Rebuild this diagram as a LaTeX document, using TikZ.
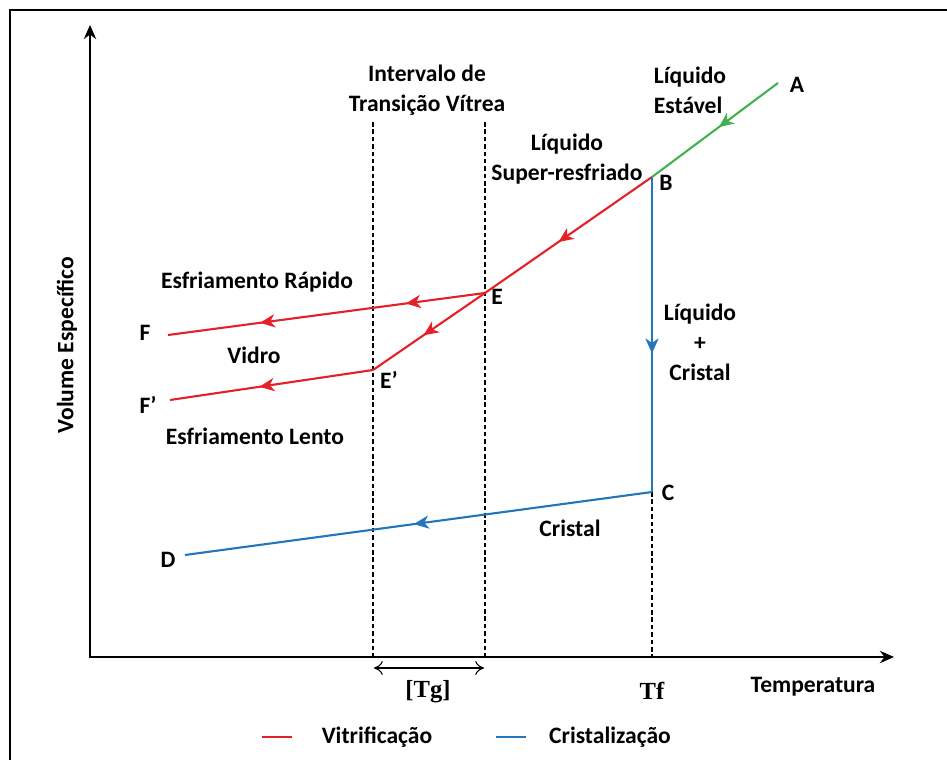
\documentclass[tikz,border=0pt]{standalone}
\usepackage{fontspec}
\setmainfont{Carlito}
\newfontfamily\tgfont{Liberation Serif}
\usetikzlibrary{arrows.meta,decorations.markings}
\definecolor{vitred}{RGB}{228,32,40}
\definecolor{crisblue}{RGB}{36,118,188}
\definecolor{liqgreen}{RGB}{64,178,80}
\tikzset{
  curve/.style={line width=1.2pt},
  guide/.style={line width=0.9pt,dash pattern=on 2.6pt off 1.6pt},
  axis/.style={line width=1.4pt,-{Stealth[length=8pt,width=7pt]}},
  lbl/.style={font=\bfseries\fontsize{13.4}{15}\selectfont,inner sep=0pt},
  midarrow/.style={postaction={decorate,decoration={markings,
      mark=at position #1 with {\arrow{Stealth[length=8.5pt,width=7.5pt,inset=2.5pt]}}}}}
}
\begin{document}
\begin{tikzpicture}[x=0.02cm,y=-0.02cm]
\useasboundingbox (0,0) rectangle (947,760);
\clip (0,0) rectangle (947,760);
% Frame
\draw [line width=1.3pt] (10,10) rectangle (960,775);

% Axes
\coordinate (O) at (90,657);
\coordinate (Ytop) at (90,25);
\coordinate (Xend) at (894,657);
\draw [axis] (O) -- (Ytop);
\draw [axis] ([xshift=-0.7pt]O) -- (Xend);
\node [lbl,rotate=90] (ylab) at (67,345) {Volume Específico};
\node [lbl] (xlab) at (813,687) {Temperatura};

% Points of the curves
\coordinate (A) at (778,83);
\coordinate (B) at (652,177);
\coordinate (C) at (652,492);
\coordinate (D) at (185,555);
\coordinate (E) at (485,293);
\coordinate (Ep) at (373,370);
\coordinate (F) at (168,335);
\coordinate (Fp) at (170,400);

% Glass transition interval and Tf
\coordinate (g1top) at (373,122);
\coordinate (g2top) at (485,122);
\coordinate (g1bot) at (373,657);
\coordinate (g2bot) at (485,657);
\coordinate (tfbot) at (652,657);
\draw [guide] (g1top) -- (g1bot);
\draw [guide] (g2top) -- (g2bot);
\draw [guide] (C) -- (tfbot);
\draw [line width=0.6pt,{To[length=5pt,width=8pt]}-{To[length=5pt,width=8pt]}] (374,668) -- (484,668);
\node [font=\tgfont\bfseries\fontsize{14}{16}\selectfont] (tg) at (428,692) {[Tg]};
\node [font=\tgfont\bfseries\fontsize{14}{16}\selectfont] (tf) at (652,691) {Tf};

% Stable liquid
\draw [curve,liqgreen,midarrow=0.47] (A) -- (B);
% Vitrification
\draw [curve,vitred,midarrow=0.56] (B) -- (E);
\draw [curve,vitred,midarrow=0.25,midarrow=0.71] (E) -- (F);
\draw [curve,vitred,midarrow=0.55] (E) -- (Ep);
\draw [curve,vitred,midarrow=0.56] (Ep) -- (Fp);
% Crystallization
\draw [curve,crisblue,midarrow=0.56] (B) -- (C);
\draw [curve,crisblue,midarrow=0.51] (C) -- (D);

% Point labels
\node [lbl] at (797,85) {A};
\node [lbl] at (666,183) {B};
\node [lbl] at (668,493) {C};
\node [lbl] at (168,560) {D};
\node [lbl] at (497,297) {E};
\node [lbl] at (389,380) {E’};
\node [lbl] at (145,333) {F};
\node [lbl] at (148,405) {F’};

% Region labels
\node [lbl,align=center] (interv) at (427,90) {Intervalo de\\[2pt]Transição Vítrea};
\node [lbl,align=left] (stable) at (690,90) {Líquido\\[2pt]Estável};
\node [lbl,align=center] (super) at (567,159) {Líquido\\[2pt]Super-resfriado};
\node [lbl] (rapido) at (257,282) {Esfriamento Rápido};
\node [lbl] (vidro) at (254,355) {Vidro};
\node [lbl] (lento) at (255,436) {Esfriamento Lento};
\node [lbl,align=center] (mix) at (700,342) {Líquido\\[2pt]+\\[2pt]Cristal};
\node [lbl] (cristal) at (570,528) {Cristal};

% Legend
\draw [curve,vitred] (262,737) -- (292,737);
\node [lbl] (lvit) at (377,737) {Vitrificação};
\draw [curve,crisblue] (496,737) -- (526,737);
\node [lbl] (lcris) at (610,737) {Cristalização};
\end{tikzpicture}
\end{document}
